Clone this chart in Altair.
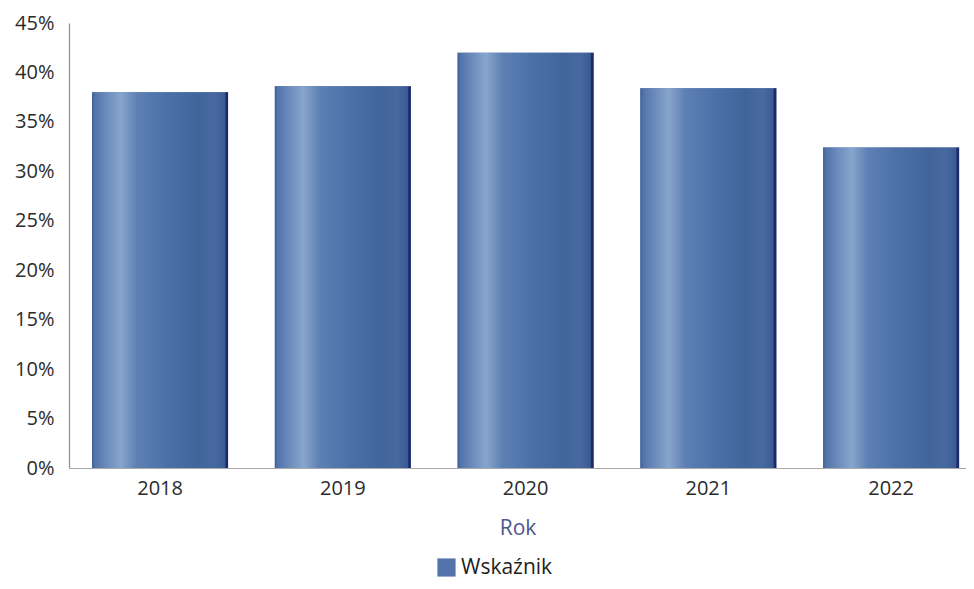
import altair as alt
import pandas as pd

years = ["2018", "2019", "2020", "2021", "2022"]
values = [38.0, 38.6, 42.0, 38.4, 32.4]
series = ["Wskaźnik"] * 5
y_ticks = [0, 5, 10, 15, 20, 25, 30, 35, 40, 45]

df = pd.DataFrame({"Rok": years, "Wartosc": values, "Seria": series})

FONT = "Open Sans"

grad = alt.LinearGradient(
    gradient="linear",
    x1=0, x2=1, y1=0, y2=0,
    stops=[
        alt.GradientStop(offset=0.0, color="#3d5f98"),
        alt.GradientStop(offset=0.02, color="#5274ab"),
        alt.GradientStop(offset=0.12, color="#6f8fbe"),
        alt.GradientStop(offset=0.21, color="#88a5cc"),
        alt.GradientStop(offset=0.33, color="#5d80b4"),
        alt.GradientStop(offset=0.55, color="#4b70a8"),
        alt.GradientStop(offset=0.78, color="#41659b"),
        alt.GradientStop(offset=0.9, color="#4769a0"),
        alt.GradientStop(offset=0.975, color="#3b5b94"),
        alt.GradientStop(offset=0.985, color="#1e2c6c"),
        alt.GradientStop(offset=1.0, color="#1a2766"),
    ],
)

x_enc = alt.X(
    "Rok:N",
    sort=years,
    scale=alt.Scale(paddingInner=0.256, paddingOuter=0.082, align=0.77),
    axis=alt.Axis(
        title="Rok",
        labelAngle=0,
        ticks=False,
        labelPadding=10,
        labelFontSize=20,
        labelColor="#2b2b2b",
        labelFont=FONT,
        titleFont=FONT,
        titleFontSize=21,
        titleFontWeight="normal",
        titleColor="#4e5791",
        titlePadding=19,
        domainColor="#a8a8a8",
        domainWidth=1,
        grid=False,
    ),
)
y_enc = alt.Y(
    "Wartosc:Q",
    scale=alt.Scale(domain=[0, 45], nice=False),
    axis=alt.Axis(
        title=None,
        values=y_ticks,
        labelExpr="datum.value + '%'",
        ticks=False,
        labelPadding=15,
        labelFontSize=20,
        labelColor="#2b2b2b",
        labelFont=FONT,
        domainColor="#8f8f8f",
        domainWidth=1.2,
        grid=False,
    ),
)

base = alt.Chart(df).encode(x=x_enc, y=y_enc)

legend_layer = base.mark_bar().encode(
    color=alt.Color(
        "Seria:N",
        scale=alt.Scale(range=["#5173aa"]),
        legend=alt.Legend(
            title=None,
            orient="none",
            legendX=367,
            legendY=534,
            symbolType="square",
            symbolSize=330,
            symbolStrokeWidth=0,
            labelFont=FONT,
            labelFontSize=21,
            labelColor="#1f1f1f",
            labelOffset=4,
        ),
    ),
)

bar_layer = base.mark_bar(color=grad)

chart = (
    alt.layer(legend_layer, bar_layer)
    .properties(
        width=897,
        height=445,
        background="white",
        padding={"left": 61, "top": 15, "right": 0, "bottom": 112},
        autosize=alt.AutoSizeParams(type="none"),
    )
    .configure_view(strokeWidth=0)
    .configure_axis(grid=False)
)

chart.save("out.html", embed_options={"renderer": "svg", "actions": False})
